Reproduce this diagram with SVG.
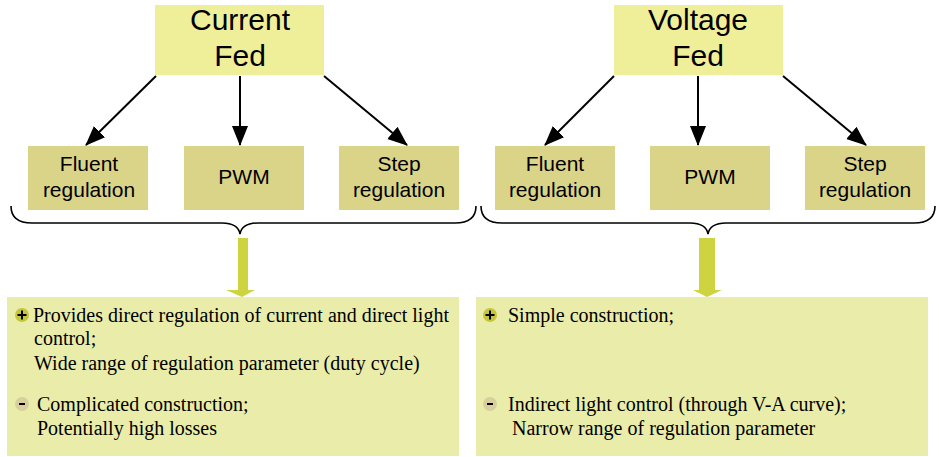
<svg xmlns="http://www.w3.org/2000/svg" width="939" height="457" viewBox="0 0 939 457">
<defs>
<style>
.top{fill:#EFEF9A}
.sub{fill:#DAD489}
.res{fill:#E9EDA9}
.ts{font-family:"Liberation Sans",Arial,sans-serif;fill:#000;text-anchor:middle}
.big{font-size:30px}
.mid{font-size:21px}
.rt{font-family:"Liberation Serif","Times New Roman",serif;font-size:20px;fill:#000}
.conn{stroke:#000;stroke-width:2;fill:none}
.brace{stroke:#000;stroke-width:1.6;fill:none}
.down{fill:#CED43F}
.plus{fill:#C6C63C}
.minus{fill:#D8CF9C}
.sym{stroke:#000;stroke-width:2}
</style>
<marker id="ahb" viewBox="0 0 20 20" refX="19" refY="10" markerWidth="20" markerHeight="20" orient="auto" markerUnits="userSpaceOnUse">
<path d="M0,2 L20,10 L0,18 z" fill="#000"/>
</marker>
</defs>

<g id="current-fed">
<rect class="top" x="155" y="5" width="169" height="70"/>
<text class="ts big" x="240" y="30">Current</text>
<text class="ts big" x="240" y="66">Fed</text>
</g>
<g id="voltage-fed">
<rect class="top" x="614" y="5" width="169" height="70"/>
<text class="ts big" x="698" y="30">Voltage</text>
<text class="ts big" x="698" y="66">Fed</text>
</g>

<g id="cf-fluent">
<rect class="sub" x="28" y="146" width="120" height="64"/>
<text class="ts mid" x="89" y="171">Fluent</text>
<text class="ts mid" x="89" y="197">regulation</text>
</g>
<g id="cf-pwm">
<rect class="sub" x="184" y="146" width="120" height="64"/>
<text class="ts mid" x="244" y="184">PWM</text>
</g>
<g id="cf-step">
<rect class="sub" x="339" y="146" width="120" height="64"/>
<text class="ts mid" x="399" y="171">Step</text>
<text class="ts mid" x="399" y="197">regulation</text>
</g>
<g id="vf-fluent">
<rect class="sub" x="495" y="146" width="120" height="64"/>
<text class="ts mid" x="555" y="171">Fluent</text>
<text class="ts mid" x="555" y="197">regulation</text>
</g>
<g id="vf-pwm">
<rect class="sub" x="650" y="146" width="120" height="64"/>
<text class="ts mid" x="710" y="184">PWM</text>
</g>
<g id="vf-step">
<rect class="sub" x="805" y="146" width="120" height="64"/>
<text class="ts mid" x="865" y="171">Step</text>
<text class="ts mid" x="865" y="197">regulation</text>
</g>

<g id="connectors">
<line class="conn" x1="156" y1="76" x2="86" y2="145" marker-end="url(#ahb)"/>
<line class="conn" x1="240" y1="76" x2="240" y2="145" marker-end="url(#ahb)"/>
<line class="conn" x1="324" y1="76" x2="407" y2="145" marker-end="url(#ahb)"/>
<line class="conn" x1="614" y1="76" x2="545" y2="145" marker-end="url(#ahb)"/>
<line class="conn" x1="698" y1="76" x2="698" y2="145" marker-end="url(#ahb)"/>
<line class="conn" x1="783" y1="76" x2="866" y2="145" marker-end="url(#ahb)"/>
<path class="brace" d="M11,206 Q11,223 32,223 L222,223 Q238,223 240,234 Q242,223 258,223 L455,223 Q476,223 476,206"/>
<path class="brace" d="M481,206 Q481,223 502,223 L690,223 Q706,223 708,234 Q710,223 726,223 L914,223 Q935,223 935,206"/>
<path class="down" d="M238,238 L248,238 L248,290 L255,290 L242,297 L226,290 L238,290 z"/>
<path class="down" d="M699,238 L715,238 L715,290 L722,290 L707,297 L693,290 L699,290 z"/>
</g>

<g id="cf-result">
<rect class="res" x="7" y="297" width="452" height="159"/>
<circle class="plus" cx="22" cy="315" r="7"/>
<path class="sym" d="M17.5,315 H26.5 M22,310.5 V319.5"/>
<text class="rt" x="33" y="322">Provides direct regulation of current and direct light</text>
<text class="rt" x="34" y="345">control;</text>
<text class="rt" x="34" y="370">Wide range of regulation parameter (duty cycle)</text>
<circle class="minus" cx="22" cy="404" r="7"/>
<path class="sym" d="M19,404 H25"/>
<text class="rt" x="37" y="411">Complicated construction;</text>
<text class="rt" x="37" y="435">Potentially high losses</text>
</g>
<g id="vf-result">
<rect class="res" x="476" y="297" width="452" height="159"/>
<circle class="plus" cx="490" cy="315" r="7"/>
<path class="sym" d="M485.5,315 H494.5 M490,310.5 V319.5"/>
<text class="rt" x="508" y="322">Simple construction;</text>
<circle class="minus" cx="490" cy="404" r="7"/>
<path class="sym" d="M487,404 H493"/>
<text class="rt" x="508" y="411">Indirect light control (through V-A curve);</text>
<text class="rt" x="512" y="435">Narrow range of regulation parameter</text>
</g>
</svg>
